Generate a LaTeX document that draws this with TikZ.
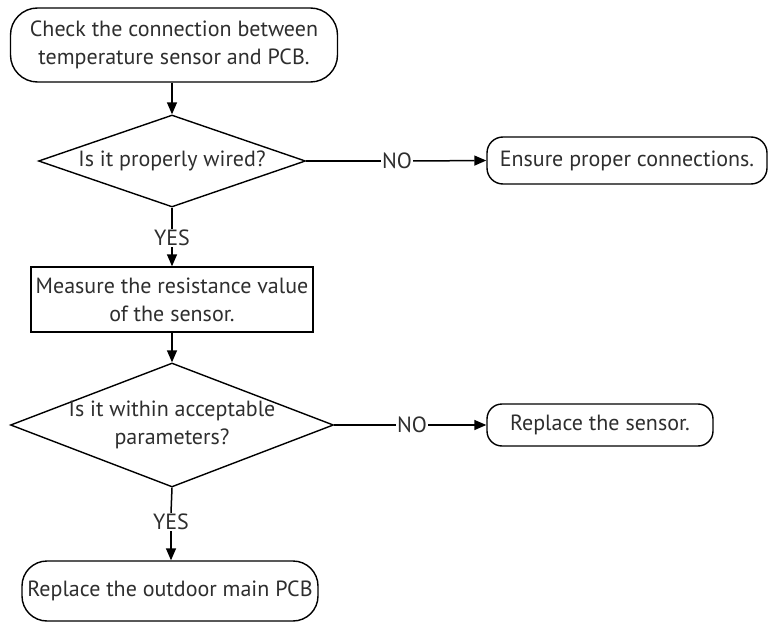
\documentclass[tikz,border=0pt]{standalone}
\usepackage{fontspec}
\setmainfont{PT Sans}
\usetikzlibrary{shapes.geometric,arrows.meta}
\definecolor{txt}{HTML}{2E2E2E}
\begin{document}
\begin{tikzpicture}[x=1pt,y=1pt,
  every node/.style={font=\fontsize{22}{28}\selectfont, text=txt, align=center},
  every label/.style={font=\fontsize{22}{28}\selectfont, text=txt, align=center, inner sep=0pt},
  pill/.style={draw=black, line width=1.4pt, rounded corners=18pt, fill=white, inner sep=0pt},
  boxr/.style={draw=black, line width=1.4pt, fill=white, inner sep=0pt},
  dia/.style={draw=black, diamond, line width=1.4pt, inner sep=0pt},
  lbl/.style={inner sep=1pt, fill=white},
  conn/.style={line width=1.5pt, draw=black},
  arr/.style={conn, -{Triangle[length=12pt,width=10pt]}}]
\useasboundingbox (0,0) rectangle (769,-623);
\node[pill, rounded corners=27pt, minimum width=327pt, minimum height=74pt] (start) at (174,-45) {Check the connection between\\temperature sensor and PCB.};
\node[dia, aspect=2.9, minimum width=267pt, minimum height=92pt, label={center:Is it properly wired?}] (d1) at (172,-161) {};
\node[lbl] (yes1) at (172,-238) {YES};
\node[boxr, minimum width=282pt, minimum height=65pt] (meas) at (172,-299.5) {Measure the resistance value\\of the sensor.};
\node[dia, aspect=2.6, minimum width=323pt, minimum height=124pt, label={center:Is it within acceptable\\parameters?}] (d2) at (172,-425) {};
\node[lbl] (yes2) at (171,-522) {YES};
\node[pill, rounded corners=25pt, minimum width=296pt, minimum height=60pt] (final) at (170,-591) {Replace the outdoor main PCB};
\node[lbl] (no1) at (397,-161) {NO};
\node[pill, minimum width=280pt, minimum height=47pt, rounded corners=16pt] (ensure) at (627,-160.5) {Ensure proper connections.};
\node[lbl] (no2) at (412,-425) {NO};
\node[pill, minimum width=226pt, minimum height=42pt, rounded corners=15pt] (sensor) at (600,-425) {Replace the sensor.};
\draw[arr] (start.south -| d1.north) -- (d1.north);
\draw[conn] (d1.south) -- (yes1.north);
\draw[arr] (yes1.south) -- (meas.north);
\draw[arr] (meas.south) -- (d2.north);
\draw[conn] (d2.south) -- (yes2.north);
\draw[arr] (yes2.south) -- (yes2.south |- final.north);
\draw[conn] (d1.east) -- (no1.west);
\draw[arr] (no1.east) -- (ensure.west);
\draw[conn] (d2.east) -- (no2.west);
\draw[arr] (no2.east) -- (sensor.west);
\end{tikzpicture}
\end{document}
